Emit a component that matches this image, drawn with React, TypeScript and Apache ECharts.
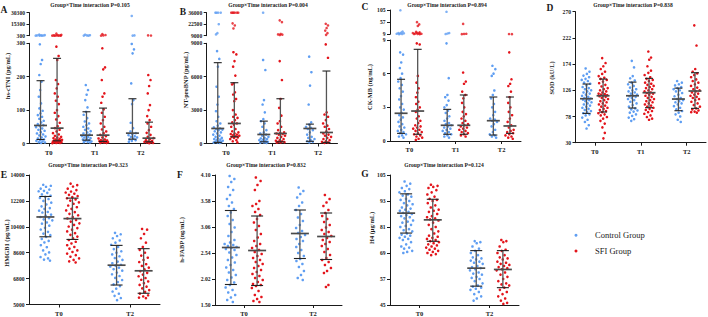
import React, { useEffect, useRef } from "react";
import * as echarts from "echarts";

const BLUE = "#5f9ef2";
const RED = "#e3141b";
const FONT = "'Liberation Serif', 'Times New Roman', serif";
const INK = "#1a1a1a";

const catsABCD = ["T0", "T1", "T2"];
const catsEFG = ["T0", "T2"];
const groupNames = ["Control Group", "SFI Group"];

// ---------- Panel A: hs-cTNI ----------
const aT0C = [1800, 1100, 850, 700, 560, 450, 380, 330, 297, 250, 238, 205, 185, 160, 140, 120, 105, 98, 90, 85, 80, 74, 68, 63, 58, 55, 52, 49, 45, 41, 38, 34, 30, 27, 24, 21, 18, 15, 12, 10, 8, 6, 4, 3, 2];
const aT0S = [3000, 1500, 900, 700, 600, 520, 460, 400, 360, 320, 290, 262, 250, 190, 178, 165, 150, 140, 128, 118, 100, 92, 82, 72, 62, 52, 46, 41, 36, 31, 27, 23, 20, 18, 16, 14, 12, 11, 10, 9, 8, 7, 6, 5, 5, 4, 3, 3, 2, 2, 1];
const aT1C = [1600, 900, 650, 480, 350, 175, 160, 146, 130, 108, 95, 86, 76, 66, 60, 55, 50, 45, 41, 37, 33, 30, 27, 24, 22, 20, 18, 16, 14, 12, 10, 8, 6, 5, 4, 3];
const aT1S = [2500, 1200, 700, 420, 285, 228, 222, 190, 150, 140, 122, 102, 92, 80, 70, 60, 50, 42, 36, 31, 26, 22, 18, 15, 12, 10, 9, 8, 7, 6, 5, 4, 3, 2, 2];
const aT2C = [26000, 700, 450, 298, 282, 270, 180, 130, 118, 62, 46, 36, 31, 28, 25, 22, 20, 18, 15, 12, 10, 8, 5];
const aT2S = [800, 500, 205, 190, 172, 150, 115, 100, 82, 70, 60, 50, 40, 32, 26, 20, 16, 13, 10, 8, 6, 5, 4, 3, 2, 1];
const aBarsC = [[12, 54, 188], [10, 25, 95], [13, 31, 134]];
const aBarsS = [[8, 46, 255], [6, 25, 106], [5, 16, 64]];
const aTicksLow = [0, 100, 200, 300];
const aTicksUp = [300, 15300, 30300];

// ---------- Panel B: NT-proBNP ----------
const bT0C = [36000, 36000, 36000, 36000, 22500, 12000, 10500, 8300, 7600, 6900, 5100, 4200, 3500, 2900, 2400, 2000, 1800, 1600, 1450, 1350, 1300, 1250, 1200, 1100, 1000, 900, 800, 700, 600, 500, 450, 400, 350, 300, 250, 200, 150, 120, 100, 80, 60];
const bT0S = [36000, 36000, 36000, 36000, 36000, 36000, 23500, 21000, 17500, 8200, 8000, 7400, 6900, 6100, 5400, 5300, 4600, 4400, 4000, 3800, 3000, 2600, 2400, 2300, 2100, 1900, 1800, 1700, 1500, 1300, 1100, 1000, 900, 850, 800, 750, 700, 650, 600, 550, 500, 400, 300, 200, 100];
const bT1C = [36000, 7500, 6600, 3900, 3500, 2800, 2200, 2000, 1800, 1500, 1200, 1000, 900, 800, 700, 600, 500, 450, 400, 350, 300, 250, 200, 150, 100, 80, 50];
const bT1S = [27000, 25000, 11000, 10500, 10200, 9800, 7400, 5700, 4000, 3200, 2500, 2000, 1800, 1500, 1200, 1000, 950, 900, 850, 800, 700, 600, 500, 400, 300, 250, 200, 150, 120, 100, 80];
const bT2C = [7800, 6400, 5200, 3500, 1900, 1700, 1500, 1400, 1300, 1200, 1000, 800, 600, 500, 400, 300, 200, 150, 100];
const bT2S = [23000, 21000, 18000, 15000, 12000, 10000, 8900, 7700, 2800, 2600, 2400, 2100, 1800, 1600, 1500, 1300, 1100, 900, 800, 700, 600, 500, 400, 300, 200, 150, 100, 50];
const bBarsC = [[100, 1350, 7260], [150, 810, 2010], [200, 1350, 1740]];
const bBarsS = [[600, 1800, 5460], [150, 900, 4020], [100, 990, 6510]];
const bTicksLow = [0, 3000, 6000, 9000];
const bTicksUp = [9000, 22500, 36000];

// ---------- Panel C: CK-MB ----------
const cT0C = [104, 20, 16, 14, 13, 12, 11, 10, 9.5, 7.9, 7.7, 7.0, 6.5, 6.0, 5.6, 5.3, 5.0, 4.7, 4.4, 4.0, 3.7, 3.3, 3.0, 2.8, 2.5, 2.3, 2.1, 1.9, 1.7, 1.5, 1.3, 1.2, 1.0, 0.9, 0.8, 0.7, 0.6, 0.5, 0.4, 0.3];
const cT0S = [57, 48, 42, 19, 17, 15, 14, 13, 12, 11, 10.5, 10, 9.5, 8.7, 8.6, 5.8, 5.2, 4.7, 4.3, 3.9, 3.5, 3.3, 3.0, 2.8, 2.6, 2.2, 2.0, 1.8, 1.6, 1.4, 1.3, 1.2, 1.1, 1.0, 0.9, 0.8, 0.7, 0.6, 0.5, 0.4, 0.3, 0.2, 0.1];
const cT1C = [98, 14, 12, 10, 8.7, 5.6, 4.1, 3.9, 3.6, 3.2, 3.0, 2.7, 2.5, 2.2, 2.0, 1.8, 1.6, 1.5, 1.4, 1.3, 1.2, 1.1, 1.0, 0.9, 0.8, 0.7, 0.6, 0.5, 0.4, 0.3];
const cT1S = [50, 11, 10.2, 9.6, 6.1, 5.3, 5.1, 4.4, 4.1, 3.8, 3.4, 3.0, 2.6, 2.4, 2.2, 2.0, 1.8, 1.6, 1.5, 1.4, 1.3, 1.2, 1.1, 1.0, 0.9, 0.8, 0.7, 0.6, 0.5, 0.4];
const cT2C = [6.7, 6.4, 6.0, 5.8, 4.5, 4.1, 3.8, 3.3, 3.0, 2.6, 2.3, 2.0, 1.9, 1.8, 1.7, 1.5, 1.3, 1.0, 0.8, 0.6, 0.5, 0.4, 0.3];
const cT2S = [10, 9.6, 7.9, 5.5, 5.1, 4.9, 4.4, 3.9, 3.4, 3.0, 2.6, 2.3, 2.0, 1.7, 1.4, 1.2, 1.0, 0.9, 0.8, 0.7, 0.6, 0.5, 0.4, 0.3, 0.2];
const cBarsC = [[0.68, 2.47, 5.5], [0.6, 1.4, 2.82], [0.53, 1.81, 3.92]];
const cBarsS = [[0.6, 2.67, 8.17], [0.6, 1.4, 4.1], [0.68, 1.34, 3.92]];
const cTicksLow = [0, 3, 6, 9];
const cTicksUp = [9, 57, 105];

// ---------- Panel D: SOD ----------
const dT0C = [166, 160, 156, 153, 150, 147, 145, 143, 140, 138, 135, 132, 130, 128, 126, 124, 122, 120, 118, 116, 114, 112, 111, 110, 109, 108, 106, 104, 102, 100, 98, 96, 94, 92, 90, 88, 86, 84, 82, 80, 76, 72, 68, 62, 56];
const dT0S = [185, 176, 170, 165, 160, 156, 152, 149, 147, 145, 142, 139, 136, 133, 130, 128, 126, 124, 122, 120, 119, 118, 117, 116, 115, 114, 112, 110, 108, 106, 104, 102, 100, 98, 96, 94, 92, 90, 88, 86, 84, 82, 80, 77, 74, 70, 65, 58, 48, 38];
const dT1C = [180, 168, 152, 148, 144, 140, 137, 134, 131, 128, 126, 124, 122, 120, 118, 116, 115, 114, 112, 110, 108, 105, 102, 99, 96, 93, 91, 89, 87, 85, 82, 79, 76, 73, 70];
const dT1S = [197, 186, 182, 170, 162, 158, 154, 150, 147, 145, 143, 140, 138, 136, 134, 132, 130, 128, 126, 124, 122, 121, 120, 118, 116, 114, 112, 110, 108, 106, 104, 102, 100, 98, 96, 94, 92, 90, 88, 86, 83, 80, 77, 74, 72];
const dT2C = [143, 140, 137, 135, 132, 130, 128, 126, 124, 121, 118, 115, 112, 110, 108, 106, 104, 102, 100, 97, 94, 91, 88, 85, 82, 78, 72, 68];
const dT2S = [245, 208, 165, 160, 157, 154, 150, 146, 143, 140, 137, 134, 131, 128, 126, 124, 122, 120, 118, 116, 114, 112, 110, 108, 105, 102, 99, 96, 93, 91, 89, 87, 86, 85];
const dBarsC = [[83.7, 110.6, 137.5], [93.5, 116, 141], [88.6, 110, 130]];
const dBarsS = [[86.2, 116, 146.6], [94.1, 121.6, 147.9], [92.9, 124.7, 158.2]];
const dTicks = [30, 78, 126, 174, 222, 270];

// ---------- Panel E: HMGB1 ----------
const eT0C = [13320, 13250, 13180, 13050, 12990, 12900, 12870, 12760, 12650, 12560, 12480, 12410, 12330, 12200, 12080, 11950, 11820, 11700, 11640, 11520, 11430, 11390, 11250, 11170, 11080, 11000, 10920, 10850, 10700, 10620, 10480, 10330, 10210, 10050, 9930, 9820, 9700, 9560, 9420, 9310, 9120, 8980, 8760, 8620, 8480, 8300, 8210, 8120, 8050];
const eT0S = [13400, 13300, 13200, 13050, 12950, 12850, 12780, 12700, 12620, 12540, 12460, 12380, 12300, 12220, 12100, 12000, 11880, 11760, 11650, 11540, 11420, 11300, 11200, 11080, 10980, 10870, 10760, 10640, 10530, 10420, 10310, 10200, 10080, 9960, 9840, 9720, 9600, 9480, 9360, 9240, 9120, 9000, 8880, 8760, 8650, 8540, 8430, 8320, 8210, 8100, 8000, 7920];
const eT2C = [9980, 9880, 9760, 9600, 9450, 9300, 9150, 9000, 8850, 8700, 8600, 8480, 8350, 8230, 8100, 7980, 7870, 7760, 7700, 7640, 7560, 7450, 7350, 7220, 7100, 6980, 6850, 6700, 6560, 6400, 6280, 6100, 5900, 5750, 5600, 5450, 5300];
const eT2S = [10250, 10200, 9900, 9600, 9300, 9000, 8800, 8600, 8400, 8250, 8100, 7950, 7800, 7680, 7560, 7440, 7320, 7200, 7080, 6960, 6840, 6720, 6600, 6480, 6360, 6240, 6120, 6000, 5880, 5760, 5640, 5560, 5480, 5440];
const eBarsC = [[9706, 11084, 12507], [6354, 7732, 9109]];
const eBarsS = [[9522, 10969, 12392], [5781, 7342, 8880]];
const eTicks = [5000, 6800, 8600, 10400, 12200, 14000];

// ---------- Panel F: h-FABP ----------
const fT0C = [4.08, 4.02, 3.96, 3.86, 3.80, 3.70, 3.62, 3.55, 3.48, 3.42, 3.35, 3.28, 3.20, 3.12, 3.05, 2.96, 2.88, 2.80, 2.75, 2.72, 2.70, 2.68, 2.66, 2.64, 2.62, 2.60, 2.55, 2.50, 2.45, 2.40, 2.35, 2.30, 2.25, 2.20, 2.15, 2.10, 2.05, 2.00, 1.95, 1.90, 1.85, 1.80, 1.75, 1.70, 1.65, 1.60, 1.56];
const fT0S = [4.05, 3.98, 3.90, 3.80, 3.58, 3.52, 3.48, 3.42, 3.36, 3.30, 3.22, 3.15, 3.08, 3.00, 2.92, 2.85, 2.78, 2.72, 2.68, 2.64, 2.60, 2.56, 2.52, 2.48, 2.44, 2.40, 2.36, 2.32, 2.28, 2.24, 2.20, 2.16, 2.12, 2.08, 2.04, 2.00, 1.96, 1.92, 1.90, 1.88, 1.84, 1.78, 1.70, 1.66, 1.62, 1.58, 1.56];
const fT2C = [3.85, 3.78, 3.72, 3.65, 3.55, 3.48, 3.40, 3.32, 3.25, 3.18, 3.10, 3.04, 2.98, 2.94, 2.90, 2.86, 2.82, 2.78, 2.72, 2.66, 2.60, 2.54, 2.48, 2.42, 2.38, 2.32, 2.26, 2.18, 2.10, 2.04, 2.00];
const fT2S = [3.70, 3.62, 3.55, 3.48, 3.40, 3.34, 3.28, 3.22, 3.16, 3.10, 3.05, 3.00, 2.96, 2.92, 2.88, 2.84, 2.80, 2.76, 2.72, 2.68, 2.62, 2.56, 2.50, 2.44, 2.40, 2.36, 2.30, 2.24, 2.18, 2.14, 1.90, 1.86];
const fBarsC = [[1.91, 2.65, 3.39], [2.43, 2.93, 3.40]];
const fBarsS = [[1.89, 2.59, 3.28], [2.41, 2.87, 3.34]];
const fTicks = [1.5, 2.02, 2.54, 3.06, 3.58, 4.1];

// ---------- Panel G: H4 ----------
const gT0C = [102, 101, 100, 99, 98.5, 97.5, 97, 96, 95.5, 95, 94, 93.5, 93, 92, 91.5, 91, 90, 89.5, 89, 88.5, 88, 87.5, 87, 86.5, 86, 85.5, 85, 84, 83.5, 83, 82, 81.5, 81, 80, 79.5, 79, 78, 77.5, 77, 76.5, 76, 75.5, 75, 74, 73, 72, 71.5, 71, 70, 69.5, 69];
const gT0S = [100.5, 100, 99.5, 99, 98, 97, 96, 95, 94, 93.5, 93, 92, 91, 90, 89, 88.5, 88, 87, 86, 85.5, 85, 84.5, 84, 83, 82, 81, 80, 79, 78, 77, 76.5, 76, 75.5, 75, 74.5, 74, 73.5, 73, 72.5, 72, 71.5, 71, 70.5, 70, 69.5, 69, 68.5, 68];
const gT2C = [74.5, 74, 73.5, 72, 71, 70, 69, 68, 67, 66.5, 66, 65.5, 65, 64.5, 64, 63, 62.5, 62, 61.5, 61, 60, 59.5, 59, 58, 57.5, 57, 56, 55, 54, 53.5, 53, 52.5, 52, 51, 50, 49, 48, 47];
const gT2S = [75, 74.5, 74, 72, 70.5, 70, 69, 68, 67, 66.5, 66, 65, 64.5, 64, 63.5, 63, 62.5, 62, 61.5, 61, 60, 59, 58, 57, 56, 55, 54.5, 54, 53, 52, 51, 50, 49, 48, 47, 46, 45.5];
const gBarsC = [[78.2, 87.4, 96.3], [53.7, 62.0, 70.1]];
const gBarsS = [[74.4, 84.3, 93.8], [53.0, 61.4, 70.1]];
const gTicks = [45, 57, 69, 81, 93, 105];

type Seg = { top: number; bottom: number; min: number; max: number; ticks: number[] };
type Panel = {
  letter: string; letterPos: number[];
  title: string; titlePos: number[];
  yName: string; yNamePos: number[];
  left: number; right: number;
  lower: Seg; upper?: Seg;
  cats: string[];
  ctrl: number[][]; sfi: number[][];
  barsC: number[][]; barsS: number[][];
  digits?: number;
};

const panels: Panel[] = [
  {
    letter: "A", letterPos: [4, 10], title: "Group×Time interaction P=0.105", titlePos: [90, 5],
    yName: "hs-cTNI (pg/mL)", yNamePos: [7, 76], left: 29.5, right: 160,
    lower: { top: 43.3, bottom: 143.5, min: 0, max: 300, ticks: aTicksLow },
    upper: { top: 12.7, bottom: 35.7, min: 300, max: 30300, ticks: aTicksUp },
    cats: catsABCD, ctrl: [aT0C, aT1C, aT2C], sfi: [aT0S, aT1S, aT2S], barsC: aBarsC, barsS: aBarsS,
  },
  {
    letter: "B", letterPos: [183, 12], title: "Group×Time interaction P=0.004", titlePos: [268, 5],
    yName: "NT-proBNP (pg/mL)", yNamePos: [185, 80], left: 206.7, right: 337.5,
    lower: { top: 43.3, bottom: 143.5, min: 0, max: 9000, ticks: bTicksLow },
    upper: { top: 12.7, bottom: 35.7, min: 9000, max: 36000, ticks: bTicksUp },
    cats: catsABCD, ctrl: [bT0C, bT1C, bT2C], sfi: [bT0S, bT1S, bT2S], barsC: bBarsC, barsS: bBarsS,
  },
  {
    letter: "C", letterPos: [365, 7], title: "Group×Time interaction P=0.894", titlePos: [447, 5],
    yName: "CK-MB (ng/mL)", yNamePos: [369, 87], left: 390, right: 521,
    lower: { top: 40, bottom: 141, min: 0, max: 9, ticks: cTicksLow },
    upper: { top: 10, bottom: 34.3, min: 9, max: 105, ticks: cTicksUp },
    cats: catsABCD, ctrl: [cT0C, cT1C, cT2C], sfi: [cT0S, cT1S, cT2S], barsC: cBarsC, barsS: cBarsS,
  },
  {
    letter: "D", letterPos: [550, 8], title: "Group×Time interaction P=0.838", titlePos: [633, 5],
    yName: "SOD (kU/L)", yNamePos: [551, 78], left: 575.5, right: 706,
    lower: { top: 11.7, bottom: 142.7, min: 30, max: 270, ticks: dTicks },
    cats: catsABCD, ctrl: [dT0C, dT1C, dT2C], sfi: [dT0S, dT1S, dT2S], barsC: dBarsC, barsS: dBarsS,
  },
  {
    letter: "E", letterPos: [4, 175], title: "Group×Time interaction P=0.323", titlePos: [88, 165],
    yName: "HMGB1 (pg/mL)", yNamePos: [6, 243], left: 29, right: 160,
    lower: { top: 175, bottom: 304.5, min: 5000, max: 14000, ticks: eTicks },
    cats: catsEFG, ctrl: [eT0C, eT2C], sfi: [eT0S, eT2S], barsC: eBarsC, barsS: eBarsS,
  },
  {
    letter: "F", letterPos: [180, 175], title: "Group×Time interaction P=0.832", titlePos: [266, 165],
    yName: "h-FABP (ng/mL)", yNamePos: [181, 240], left: 215, right: 342,
    lower: { top: 175, bottom: 305, min: 1.5, max: 4.1, ticks: fTicks },
    cats: catsEFG, ctrl: [fT0C, fT2C], sfi: [fT0S, fT2S], barsC: fBarsC, barsS: fBarsS, digits: 2,
  },
  {
    letter: "G", letterPos: [365, 174], title: "Group×Time interaction P=0.124", titlePos: [444, 165],
    yName: "H4 (μg/mL)", yNamePos: [371, 228], left: 390, right: 519,
    lower: { top: 175, bottom: 305, min: 45, max: 105, ticks: gTicks },
    cats: catsEFG, ctrl: [gT0C, gT2C], sfi: [gT0S, gT2S], barsC: gBarsC, barsS: gBarsS,
  },
];

const PAD = 0.42;

function jitter(vals: number[], center: number, maxAmp: number, range: number) {
  const win = range * 0.04;
  return vals.map((v, i) => {
    let n = 0;
    for (const w of vals) if (Math.abs(w - v) < win) n++;
    const amp = maxAmp * Math.min(1, 0.25 + 0.11 * n);
    const f = ((i * 0.6180339887 + 0.31) % 1) * 2 - 1;
    return [center + amp * f, v];
  });
}

function buildOption() {
  const grids: any[] = [];
  const xAxes: any[] = [];
  const yAxes: any[] = [];
  const series: any[] = [];
  const graphics: any[] = [];

  panels.forEach((p) => {
    const n = p.cats.length;
    const idx = p.cats.map((_, i) => i);
    const width = p.right - p.left;
    const spacing = width / (n - 1 + 2 * PAD);
    const off = n === 3 ? 0.18 : 0.19;
    const ampPx = n === 3 ? 5 : 7;
    const maxAmp = ampPx / spacing;
    const capW = n === 3 ? 8 : 12;
    const medW = n === 3 ? 13 : 18;

    const addGrid = (seg: Seg, showX: boolean) => {
      const gi = grids.length;
      grids.push({ left: p.left, top: seg.top, width, height: seg.bottom - seg.top, outerBoundsMode: "none", containLabel: false });
      xAxes.push({
        type: "value", gridIndex: gi, min: -PAD, max: n - 1 + PAD, show: showX,
        axisLine: { show: true, onZero: false, lineStyle: { color: INK, width: 1 } },
        axisTick: { show: true, customValues: idx, length: 3, lineStyle: { color: INK, width: 1 } },
        axisLabel: { customValues: idx, formatter: (v: number) => p.cats[Math.round(v)], margin: 5, fontFamily: FONT, fontWeight: "bold", fontSize: 6.5, color: INK },
        splitLine: { show: false },
      });
      yAxes.push({
        type: "value", gridIndex: gi, min: seg.min, max: seg.max,
        axisLine: { show: true, onZero: false, lineStyle: { color: INK, width: 1 } },
        axisTick: { show: true, customValues: seg.ticks, length: 3, lineStyle: { color: INK, width: 1 } },
        axisLabel: { customValues: seg.ticks, formatter: (v: number) => (p.digits ? v.toFixed(p.digits) : String(v)), margin: 4.5, fontFamily: FONT, fontWeight: "bold", fontSize: 5.6, color: INK },
        splitLine: { show: false },
      });
      return gi;
    };

    const gLow = addGrid(p.lower, true);
    const gUp = p.upper ? addGrid(p.upper, false) : -1;

    [p.ctrl, p.sfi].forEach((groups, gIdx) => {
      const color = gIdx === 0 ? BLUE : RED;
      const sign = gIdx === 0 ? -1 : 1;
      const lowPts: number[][] = [];
      const upPts: number[][] = [];
      groups.forEach((vals, t) => {
        const center = t + sign * off;
        const lowVals = vals.filter((v) => v <= p.lower.max);
        jitter(lowVals, center, maxAmp, p.lower.max - p.lower.min).forEach((pt) => lowPts.push(pt));
        if (p.upper) {
          const upVals = vals.filter((v) => v > p.lower.max);
          jitter(upVals, center, maxAmp, p.upper.max - p.upper.min).forEach((pt) => upPts.push(pt));
        }
      });
      series.push({ type: "scatter", name: groupNames[gIdx], xAxisIndex: gLow, yAxisIndex: gLow, data: lowPts, symbol: "circle", symbolSize: 2.6, itemStyle: { color, opacity: 1 }, silent: true, z: 2 });
      if (p.upper) {
        series.push({ type: "scatter", name: groupNames[gIdx], xAxisIndex: gUp, yAxisIndex: gUp, data: upPts, symbol: "circle", symbolSize: 2.6, itemStyle: { color }, silent: true, z: 2, clip: false });
      }
      const bars = gIdx === 0 ? p.barsC : p.barsS;
      series.push({
        type: "custom", name: groupNames[gIdx] + " bars", xAxisIndex: gLow, yAxisIndex: gLow, silent: true, z: 5, clip: false,
        encode: { x: 0, y: [1, 2, 3] },
        data: bars.map((b, t) => [t + sign * off, b[0], b[1], b[2]]),
        renderItem: (_params: any, api: any) => {
          const x = api.value(0);
          const pLo = api.coord([x, api.value(1)]);
          const pMd = api.coord([x, api.value(2)]);
          const pHi = api.coord([x, api.value(3)]);
          const cx = pMd[0];
          return {
            type: "group",
            children: [
              { type: "line", shape: { x1: cx, y1: pLo[1], x2: cx, y2: pHi[1] }, style: { stroke: "#555", lineWidth: 1.3 } },
              { type: "line", shape: { x1: cx - capW / 2, y1: pLo[1], x2: cx + capW / 2, y2: pLo[1] }, style: { stroke: "#222", lineWidth: 1.1 } },
              { type: "line", shape: { x1: cx - capW / 2, y1: pHi[1], x2: cx + capW / 2, y2: pHi[1] }, style: { stroke: "#222", lineWidth: 1.1 } },
              { type: "line", shape: { x1: cx - medW / 2, y1: pMd[1], x2: cx + medW / 2, y2: pMd[1] }, style: { stroke: "#4a4a4a", lineWidth: 1.7 } },
            ],
          };
        },
      });
    });

    graphics.push({ type: "text", x: p.letterPos[0], y: p.letterPos[1], style: { text: p.letter, font: `bold 9.5px ${FONT}`, fill: INK, align: "center", verticalAlign: "middle" } });
    graphics.push({ type: "text", x: p.titlePos[0], y: p.titlePos[1], style: { text: p.title, font: `bold 5.6px ${FONT}`, fill: INK, align: "center", verticalAlign: "middle" } });
    graphics.push({ type: "text", x: p.yNamePos[0], y: p.yNamePos[1], rotation: Math.PI / 2, style: { text: p.yName, font: `bold 6.4px ${FONT}`, fill: INK, align: "center", verticalAlign: "middle" } });
  });

  // legend
  [BLUE, RED].forEach((c, i) => {
    const y = 235.3 + i * 15.7;
    graphics.push({ type: "circle", shape: { cx: 576, cy: y, r: 1.5 }, style: { fill: c } });
    graphics.push({ type: "text", x: 595, y, style: { text: groupNames[i], font: `8.5px ${FONT}`, fill: INK, align: "left", verticalAlign: "middle" } });
  });

  return {
    animation: false,
    backgroundColor: "#ffffff",
    grid: grids,
    xAxis: xAxes,
    yAxis: yAxes,
    series,
    graphic: graphics,
  };
}

export default function App() {
  const ref = useRef<HTMLDivElement>(null);
  useEffect(() => {
    if (!ref.current) return;
    const chart = echarts.init(ref.current, undefined, { renderer: "svg" });
    chart.setOption(buildOption() as any);
    return () => chart.dispose();
  }, []);
  return <div ref={ref} style={{ position: "absolute", left: 0, top: 0, width: 708, height: 317 }} />;
}
